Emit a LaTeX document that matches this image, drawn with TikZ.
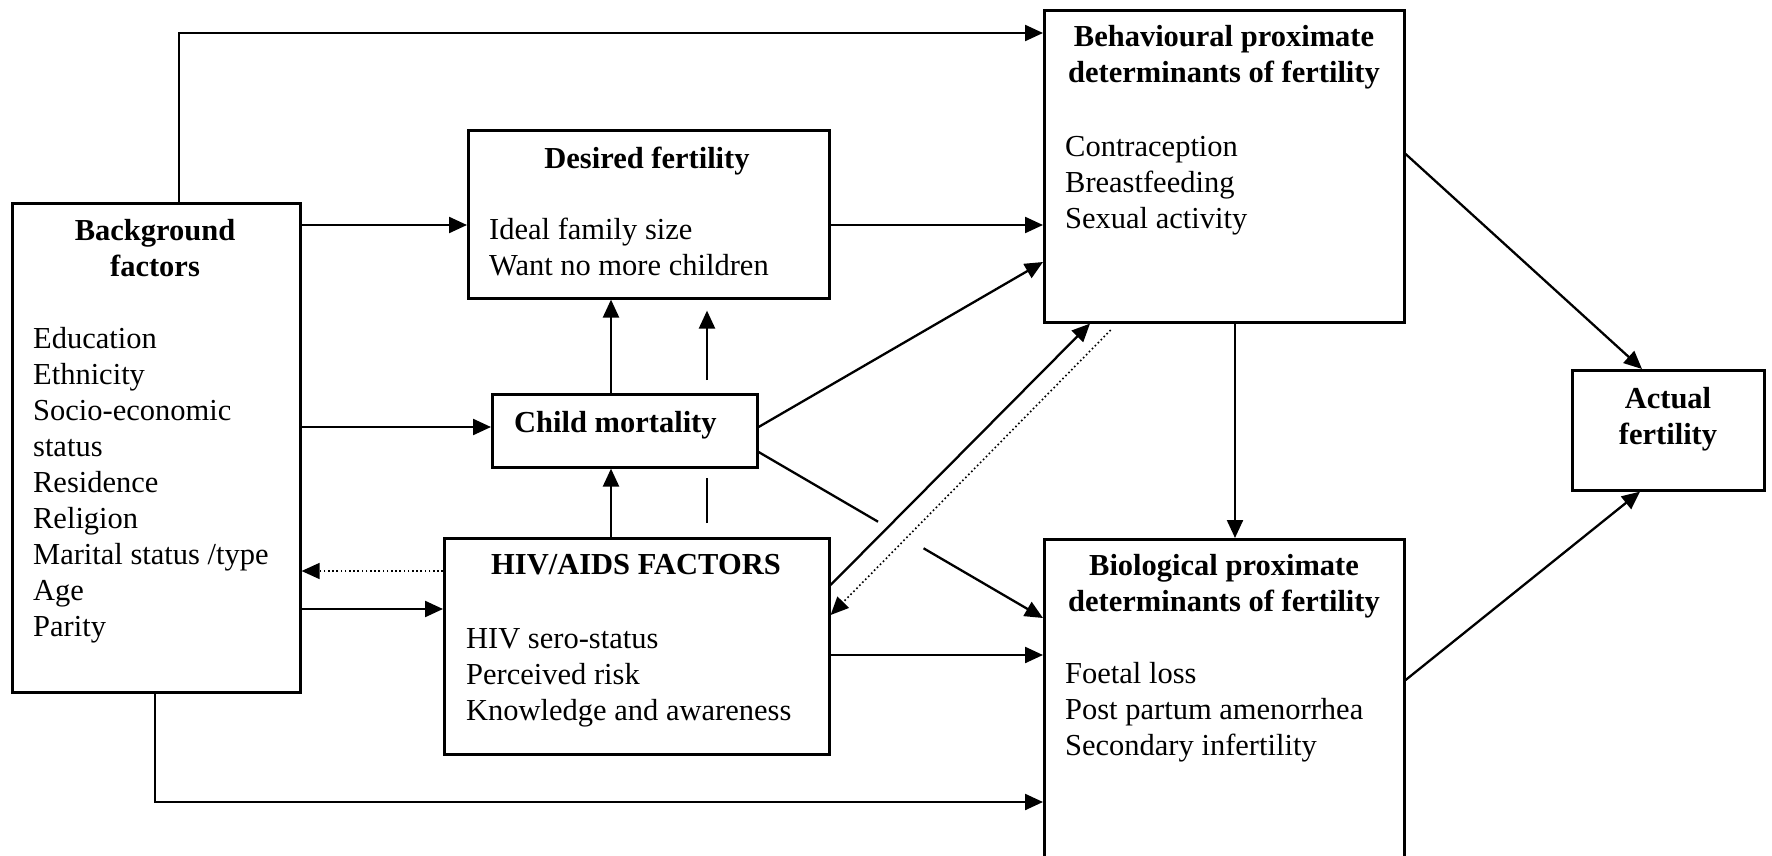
\documentclass[tikz,border=0pt]{standalone}
\usepackage{fontspec}
\setmainfont{Liberation Serif}
\usetikzlibrary{arrows.meta, positioning, calc}

\begin{document}
\begin{tikzpicture}[x=1pt, y=-1pt, >={Triangle[length=18pt, width=16pt]}, line width=2.3pt,
  font=\fontsize{30.5}{36}\selectfont,
  box/.style={draw, line width=2.6pt, inner sep=0pt, anchor=north west},
  head/.style={font=\fontsize{30.5}{36}\selectfont\bfseries, align=center, inner sep=0pt, anchor=base},
  items/.style={align=left, inner sep=0pt, anchor=base west},
  back/.style={->, line width=1.6pt, dash pattern=on 1.6pt off 2.6pt}]
\useasboundingbox (0,0) rectangle (1772,856);
% boxes
\node[box, minimum width=288pt, minimum height=489pt] (bg) at (11,202) {};
\node[box, minimum width=361pt, minimum height=168pt] (desired) at (467,129) {};
\node[box, minimum width=265pt, minimum height=73pt] (child) at (491,393) {};
\node[box, minimum width=385pt, minimum height=216pt] (hiv) at (443,537) {};
\node[box, minimum width=360pt, minimum height=312pt] (behav) at (1043,9) {};
\node[box, minimum width=360pt, minimum height=340pt] (bio) at (1043,538) {};
\node[box, minimum width=192pt, minimum height=120pt] (actual) at (1571,369) {};
% texts (placed at the baseline of their last line)
\node[head] (bgT) at (155,276) {Background\\factors};
\node[items] (bgL) at (32,636) {Education\\Ethnicity\\Socio-economic\\status\\Residence\\Religion\\Marital status /type\\Age\\Parity};
\node[head] (desiredT) at (647,168) {Desired fertility};
\node[items] (desiredL) at (488,275) {Ideal family size\\Want no more children};
\node[head, anchor=base west] (childT) at (513,432) {Child mortality};
\node[head] (hivT) at (636,574) {HIV/AIDS FACTORS};
\node[items] (hivL) at (465,720) {HIV sero-status\\Perceived risk\\Knowledge and awareness};
\node[head] (behavT) at (1224,83) {Behavioural proximate\\determinants of fertility};
\node[items] (behavL) at (1064,228) {Contraception\\Breastfeeding\\Sexual activity};
\node[head] (bioT) at (1224,611) {Biological proximate\\determinants of fertility};
\node[items] (bioL) at (1064,755) {Foetal loss\\Post partum amenorrhea\\Secondary infertility};
\node[head] (actualT) at (1668,444) {Actual\\fertility};
% connectors
\coordinate (c1) at (611,0);
\coordinate (c2) at (707,0);
\draw[->] (179,0 |- bg.north) |- (behav.west |- 0,33);
\draw[->] (bg.east |- 0,225) -- (desired.west |- 0,225);
\draw[->] (desired.east |- 0,225) -- (behav.west |- 0,225);
\draw[->] (bg.east |- 0,427) -- (child.west |- 0,427);
\draw[->] (c1 |- child.north) -- (c1 |- desired.south);
\draw[->] (c1 |- hiv.north) -- (c1 |- child.south);
\draw[shorten <=14pt, shorten >=9pt] (c2 |- hiv.north) -- (c2 |- child.south);
\draw[->, shorten <=13pt, shorten >=11pt] (c2 |- child.north) -- (c2 |- desired.south);
\draw[->] (bg.east |- 0,609) -- (hiv.west |- 0,609);
\draw[back] (hiv.west |- 0,571) -- (bg.east |- 0,571);
\draw[->] (child.east |- 0,427) -- (behav.west |- 0,262);
\coordinate (cmA) at (child.east |- 0,452);
\coordinate (cmB) at (bio.west |- 0,618);
\draw (cmA) -- ($(cmA)!0.42!(cmB)$);
\draw[->] ($(cmA)!0.58!(cmB)$) -- (cmB);
\draw[->] (hiv.east |- 0,585) -- (1090,0 |- behav.south);
\draw[back, shorten <=9pt] (1117,0 |- behav.south) -- (hiv.east |- 0,615);
\draw[->] (hiv.east |- 0,655) -- (bio.west |- 0,655);
\draw[->] (1235,0 |- behav.south) -- (1235,0 |- bio.north);
\draw[->] (155,0 |- bg.south) |- (bio.west |- 0,802);
\draw[->] (behav.east |- 0,154) -- (1642,0 |- actual.north);
\draw[->] (bio.east |- 0,680) -- (1640,0 |- actual.south);
\end{tikzpicture}
\end{document}
